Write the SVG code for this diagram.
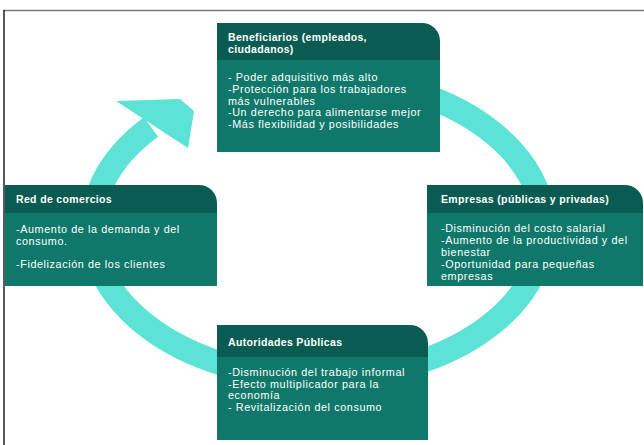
<svg xmlns="http://www.w3.org/2000/svg" width="644" height="445" viewBox="0 0 644 445">
  <style>
    .hdr { fill: #0a5c52; }
    .body { fill: #10786a; }
    .title { font-family: "Liberation Sans", Arial, sans-serif; font-weight: bold; font-size: 10.5px; letter-spacing: 0.35px; fill: #ffffff; }
    .item { font-family: "Liberation Sans", Arial, sans-serif; font-size: 10.8px; letter-spacing: 0.6px; fill: #ffffff; }
    .ring { fill: none; stroke: #5ce3d6; stroke-width: 24; }
  </style>
  <rect width="644" height="445" fill="#ffffff"/>
  <!-- frame -->
  <line x1="3" y1="10.5" x2="644" y2="10.5" stroke="#7a7a7a" stroke-width="1.5"/>
  <line x1="4" y1="10" x2="4" y2="445" stroke="#222222" stroke-width="1.5"/>

  <!-- cycle connector -->
  <g id="connectors">
    <path class="ring" d="M 151 127 A 226 150 0 1 0 318 78"/>
    <polygon points="116,101 180,99 194,111 188,148" fill="#5ce3d6"/>
  </g>

  <g id="beneficiarios">
    <path class="hdr" d="M217 23 H422 A18 18 0 0 1 440 41 V60 H217 Z"/>
    <rect class="body" x="217" y="60" width="223" height="92"/>
    <text class="title" x="228" y="41">Beneficiarios (empleados,</text>
    <text class="title" x="228" y="53">ciudadanos)</text>
    <text class="item" x="228" y="81">- Poder adquisitivo más alto</text>
    <text class="item" x="228" y="93">-Protección para los trabajadores</text>
    <text class="item" x="228" y="104.5">más vulnerables</text>
    <text class="item" x="228" y="116">-Un derecho para alimentarse mejor</text>
    <text class="item" x="228" y="128">-Más flexibilidad y posibilidades</text>
  </g>

  <g id="red-comercios">
    <path class="hdr" d="M5 185 H199 A18 18 0 0 1 217 203 V213 H5 Z"/>
    <rect class="body" x="5" y="213" width="212" height="73"/>
    <text class="title" x="16" y="203">Red de comercios</text>
    <text class="item" x="16" y="233">-Aumento de la demanda y del</text>
    <text class="item" x="16" y="245">consumo.</text>
    <text class="item" x="16" y="268">-Fidelización de los clientes</text>
  </g>

  <g id="empresas">
    <path class="hdr" d="M427 185 H625 A18 18 0 0 1 643 203 V213 H427 Z"/>
    <rect class="body" x="427" y="213" width="216" height="73"/>
    <text class="title" x="441" y="203">Empresas (públicas y privadas)</text>
    <text class="item" x="441" y="232">-Disminución del costo salarial</text>
    <text class="item" x="441" y="244">-Aumento de la productividad y del</text>
    <text class="item" x="441" y="256">bienestar</text>
    <text class="item" x="441" y="268">-Oportunidad para pequeñas</text>
    <text class="item" x="441" y="280">empresas</text>
  </g>

  <g id="autoridades">
    <path class="hdr" d="M217 325 H410 A18 18 0 0 1 428 343 V357 H217 Z"/>
    <rect class="body" x="217" y="357" width="211" height="83"/>
    <text class="title" x="228" y="346">Autoridades Públicas</text>
    <text class="item" x="228" y="376">-Disminución del trabajo informal</text>
    <text class="item" x="228" y="387.5">-Efecto multiplicador para la</text>
    <text class="item" x="228" y="399">economía</text>
    <text class="item" x="228" y="410.5">- Revitalización del consumo</text>
  </g>
</svg>
